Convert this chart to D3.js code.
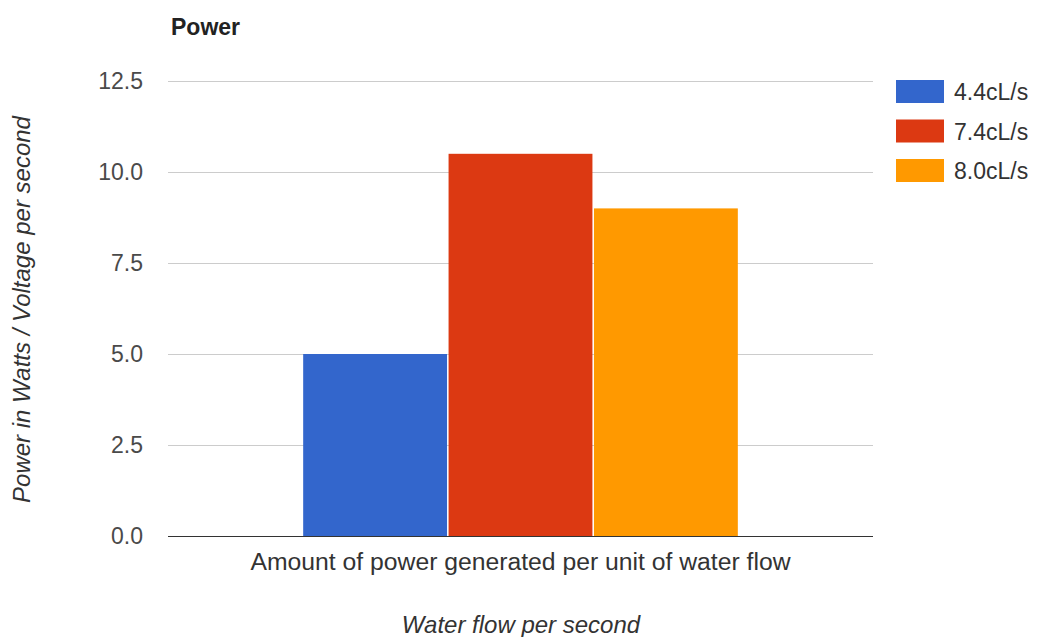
<!DOCTYPE html>
<html>
<head>
<meta charset="utf-8">
<script src="https://cdn.jsdelivr.net/npm/d3@7"></script>
<style>
  html, body { margin: 0; padding: 0; background: #fff; }
  svg { display: block; font-family: "Liberation Sans", Arial, sans-serif; }
</style>
</head>
<body>
<svg id="chart" width="1038" height="637"></svg>
<script>
const categories = ["Amount of power generated per unit of water flow"];
const seriesNames = ["4.4cL/s", "7.4cL/s", "8.0cL/s"];
const seriesValues = [[5.0], [10.5], [9.0]];
const seriesColors = ["#3366cc", "#dc3912", "#ff9900"];
const yTicks = [0, 2.5, 5, 7.5, 10, 12.5];
const title = "Power";
const xTitle = "Water flow per second";
const yTitle = "Power in Watts / Voltage per second";

const svg = d3.select("#chart");
const plotL = 168, plotR = 873, plotT = 81, plotB = 536;
const fs = 23;

const y = d3.scaleLinear().domain([0, 12.5]).range([plotB, plotT]);
const x0 = d3.scaleBand().domain(categories).range([plotL, plotR]).paddingInner(0).paddingOuter(0.311);
const x1 = d3.scaleBand().domain(seriesNames).range([0, x0.bandwidth()]).paddingInner(0.0105);

// gridlines
svg.append("g").selectAll("line").data(yTicks.filter(d => d !== 0)).join("line")
  .attr("x1", plotL).attr("x2", plotR)
  .attr("y1", d => y(d) + 0.5).attr("y2", d => y(d) + 0.5)
  .attr("stroke", "#cccccc").attr("stroke-width", 1);

// tick labels
svg.append("g").selectAll("text").data(yTicks).join("text")
  .attr("x", 143).attr("y", d => y(d))
  .attr("dy", "0.35em").attr("text-anchor", "end")
  .attr("font-size", fs).attr("fill", "#4a4a4a")
  .text(d => d3.format(".1f")(d));

// bars
categories.forEach((c, ci) => {
  svg.append("g").selectAll("rect").data(seriesNames).join("rect")
    .attr("x", (s) => x0(c) + x1(s))
    .attr("width", x1.bandwidth())
    .attr("y", (s, i) => y(seriesValues[i][ci]))
    .attr("height", (s, i) => y(0) - y(seriesValues[i][ci]))
    .attr("fill", (s, i) => seriesColors[i]);
});

// baseline
svg.append("line").attr("x1", plotL).attr("x2", plotR)
  .attr("y1", y(0) + 0.5).attr("y2", y(0) + 0.5)
  .attr("stroke", "#333").attr("stroke-width", 1.2);

// category labels
svg.append("g").selectAll("text").data(categories).join("text")
  .attr("x", d => x0(d) + x0.bandwidth() / 2).attr("y", 570)
  .attr("text-anchor", "middle").attr("font-size", fs).attr("fill", "#333")
  .attr("textLength", 540).attr("lengthAdjust", "spacingAndGlyphs")
  .text(d => d);

// title
svg.append("text").attr("x", 171).attr("y", 35)
  .attr("font-size", 23).attr("font-weight", "bold").attr("fill", "#222")
  .text(title);

// axis titles
svg.append("text").attr("x", 521).attr("y", 633)
  .attr("text-anchor", "middle").attr("font-size", 24).attr("font-style", "italic").attr("fill", "#333")
  .text(xTitle);
svg.append("text").attr("transform", `translate(30,${(plotT + plotB) / 2 + 1}) rotate(-90)`)
  .attr("text-anchor", "middle").attr("font-size", 24).attr("font-style", "italic").attr("fill", "#333")
  .text(yTitle);

// legend
const lg = svg.append("g").selectAll("g").data(seriesNames).join("g")
  .attr("transform", (d, i) => `translate(896,${80 + i * 39.5})`);
lg.append("rect").attr("width", 48).attr("height", 23).attr("fill", (d, i) => seriesColors[i]);
lg.append("text").attr("x", 58).attr("y", 12).attr("dy", "0.35em")
  .attr("font-size", fs).attr("fill", "#333").text(d => d);
</script>
</body>
</html>
